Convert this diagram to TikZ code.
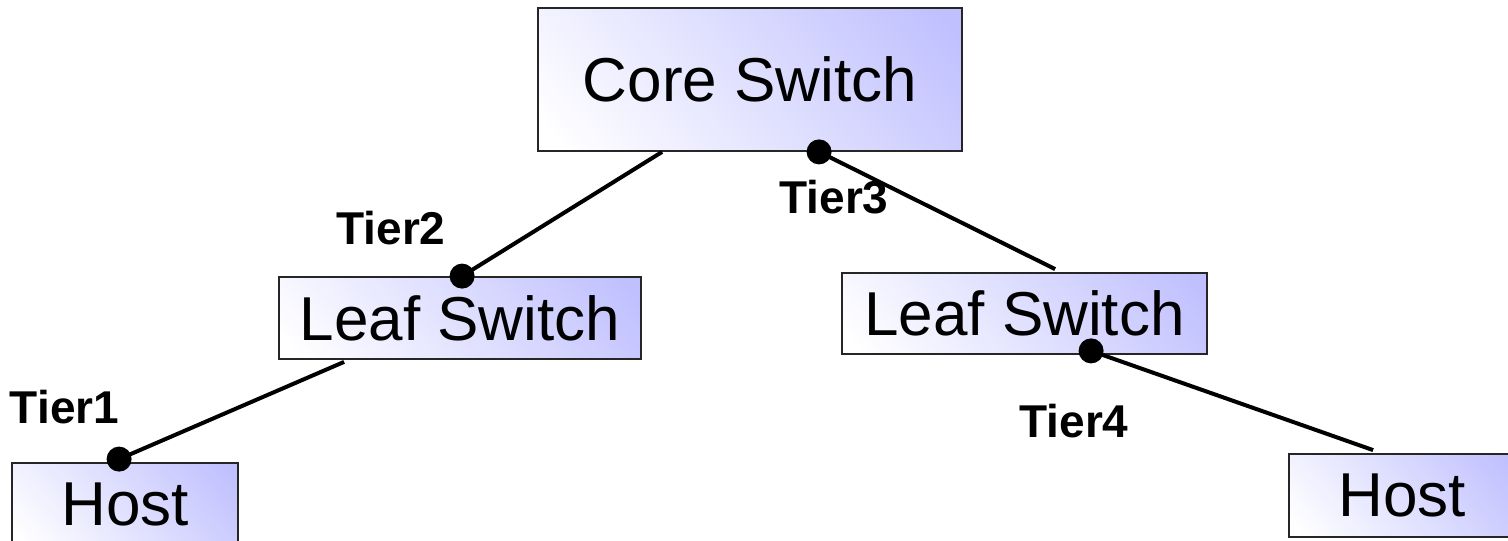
\documentclass[tikz,border=0pt]{standalone}
\usepackage{fontspec}
\setmainfont{Liberation Sans}
\usetikzlibrary{calc}
\definecolor{boxblue}{RGB}{192,192,255}
% soft diagonal fill: white at the bottom, lavender at the top
\pgfdeclareverticalshading{boxgrad}{100bp}{%
  color(0bp)=(white); color(18bp)=(white); color(82bp)=(boxblue); color(100bp)=(boxblue)}
\begin{document}
\begin{tikzpicture}[x=1pt,y=-1pt,
  box/.style={draw=black!85, line width=1.8pt, shading=boxgrad,
    shading angle=-50, inner sep=0pt, font=\fontsize{62}{70}\selectfont},
  link/.style={line width=4pt},
  tier/.style={font=\fontsize{46}{50}\selectfont\bfseries, anchor=base, inner sep=0pt},
  joint/.style={circle, fill=black, inner sep=0pt, minimum size=25pt}]
\useasboundingbox (0,0) rectangle (1508,541);

% switches and hosts
\node[box, minimum width=424pt, minimum height=143pt] (core)  at (750,79.5)    {Core Switch};
\node[box, minimum width=362pt, minimum height=82pt]  (leafL) at (460,318)     {Leaf Switch};
\node[box, minimum width=365pt, minimum height=81pt]  (leafR) at (1024.5,313.5){Leaf Switch};
\node[box, minimum width=226pt, minimum height=83pt]  (hostL) at (125,504.5)   {Host};
\node[box, minimum width=226pt, minimum height=83pt]  (hostR) at (1402,495.5)  {Host};

% attachment points
\coordinate (coreL) at ($(core.south west)+(125,0)$);
\coordinate (leafRtop) at ($(leafR.north west)+(214,-3)$);
\coordinate (leafLbot) at ($(leafL.south west)+(66,2)$);
\coordinate (hostRtop) at ($(hostR.north west)+(85,-3)$);

% tier markers
\node[joint] (d2) at ($(leafL.north west)+(184,0)$) {};
\node[joint] (d3) at ($(core.south west)+(282,0)$) {};
\node[joint] (d1) at ($(hostL.north west)+(108,-3)$) {};
\node[joint] (d4) at ($(leafR.south west)+(250,-4)$) {};

% links
\draw[link] (coreL) -- (d2.center);
\draw[link] (d3.center) -- (leafRtop);
\draw[link] (leafLbot) -- (d1.center);
\draw[link] (d4.center) -- (hostRtop);

% labels
\node[tier] (t1) at (64.5,423) {Tier1};
\node[tier] (t2) at (391,244)  {Tier2};
\node[tier] (t3) at (834,213)  {Tier3};
\node[tier] (t4) at (1074,437) {Tier4};
\end{tikzpicture}
\end{document}
